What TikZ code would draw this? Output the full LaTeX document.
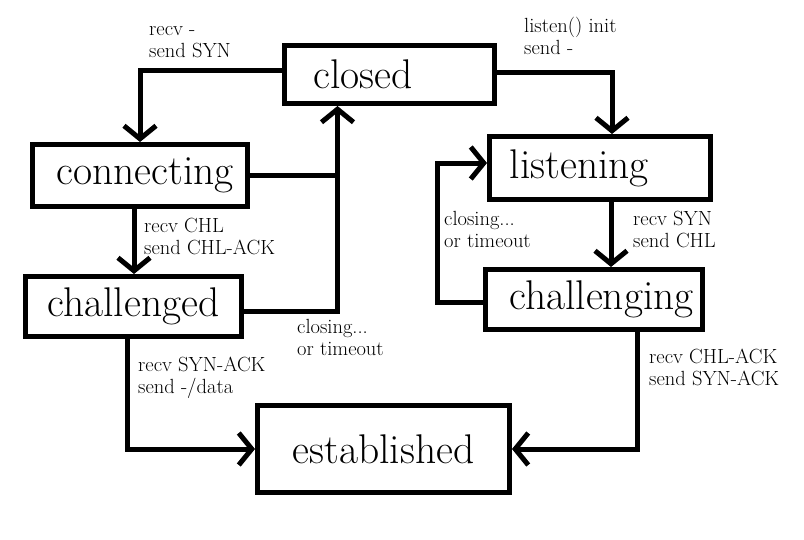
\documentclass[tikz,border=0pt]{standalone}
\usetikzlibrary{arrows.meta}
\begin{document}
\begin{tikzpicture}[x=1pt,y=-1pt,
  statebox/.style={draw,line width=5pt,rectangle,inner sep=0pt,font=\fontsize{41.5}{44}\selectfont},
  conn/.style={line width=5pt},
  arr/.style={conn,-{Straight Barb[length=13pt,width=32pt,line width=5pt]}},
  lbl/.style={anchor=north west,inner sep=0pt,align=left,font=\fontsize{20.5}{22.5}\selectfont}]
\useasboundingbox (0,0) rectangle (804,539);
% states
\node[statebox,minimum width=210pt,minimum height=58pt] (closed) at (389.5,74.5) {closed\hspace*{53pt}};
\node[statebox,minimum width=215pt,minimum height=62pt] (connecting) at (140,175.5) {\hspace*{10pt}connecting};
\node[statebox,minimum width=216pt,minimum height=60pt] (challenged) at (133.5,306.5) {challenged};
\node[statebox,minimum width=252pt,minimum height=87pt] (established) at (383.5,449) {established};
\node[statebox,minimum width=221pt,minimum height=63pt] (listening) at (600,168) {listening\hspace*{41pt}};
\node[statebox,minimum width=217pt,minimum height=60pt] (challenging) at (594,299.5) {\hspace*{15pt}challenging};
% junction on the closing line
\coordinate (j) at ([xshift=-52pt]closed.south |- connecting.east);
% connectors
\draw[arr] ([yshift=4pt]closed.west) -| (connecting.north);
\draw[arr] ([yshift=2pt]closed.east) -| ([xshift=12pt]listening.north);
\draw[arr] (connecting.east) -| ([xshift=-52pt]closed.south);
\draw[conn] ([yshift=-5pt]challenged.east) -| (j);
\draw[arr] ([xshift=-6pt]connecting.south) -- ([xshift=-6pt]connecting.south |- challenged.north);
\draw[arr] ([xshift=-6pt]challenged.south) |- (established.west);
\draw[arr] ([xshift=11pt]listening.south) -- ([xshift=11pt]listening.south |- challenging.north);
\draw[arr] ([yshift=-3pt]challenging.west) -- ++(-46,0) |- ([yshift=5pt]listening.west);
\draw[arr] ([xshift=43pt]challenging.south) |- (established.east);
% labels
\node[lbl] (l1) at (149,19.5) {\strut recv -\\send SYN};
\node[lbl] (l2) at (524,16.5) {\strut listen() init\\send -};
\node[lbl] (l3) at (144,216.5) {\strut recv CHL\\send CHL-ACK};
\node[lbl] (l4) at (297,317.5) {\strut closing...\\or timeout};
\node[lbl] (l5) at (138,355.5) {\strut recv SYN-ACK\\send -/data};
\node[lbl] (l6) at (444,209.5) {\strut closing...\\or timeout};
\node[lbl] (l7) at (633,209.5) {\strut recv SYN\\send CHL};
\node[lbl] (l8) at (649,347.5) {\strut recv CHL-ACK\\send SYN-ACK};
\end{tikzpicture}
\end{document}
